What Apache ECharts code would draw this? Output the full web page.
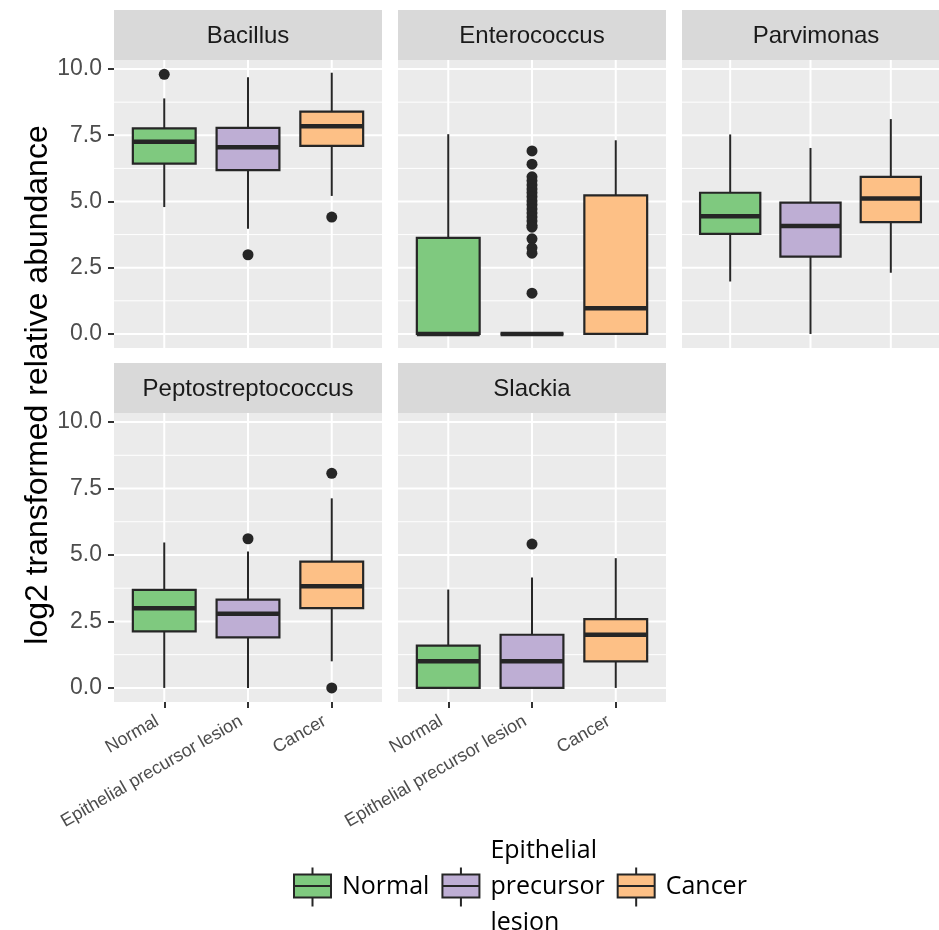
<!DOCTYPE html>
<html>
<head>
<meta charset="utf-8">
<script src="https://cdn.jsdelivr.net/npm/echarts@6/dist/echarts.min.js"></script>
<style>
html,body{margin:0;padding:0;background:#fff;}
#chart{width:939px;height:930px;}
</style>
</head>
<body>
<div id="chart"></div>
<script>
// ---------- data ----------
const categories = ['Normal', 'Epithelial precursor lesion', 'Cancer'];
const taxa = ['Bacillus', 'Enterococcus', 'Parvimonas', 'Peptostreptococcus', 'Slackia'];
const yTickValues = [0, 2.5, 5, 7.5, 10];
const yMinorValues = [1.25, 3.75, 6.25, 8.75];
const yTitle = 'log2 transformed relative abundance';

// box stats per category: [lower whisker, Q1, median, Q3, upper whisker]
const bacillusBox = [[4.79, 6.43, 7.25, 7.76, 8.89], [3.97, 6.18, 7.05, 7.78, 9.69], [5.21, 7.10, 7.84, 8.39, 9.86]];
const enterococcusBox = [[0, 0, 0, 3.63, 7.54], [0, 0, 0, 0, 0], [0, 0, 0.97, 5.23, 7.31]];
const parvimonasBox = [[1.98, 3.78, 4.44, 5.33, 7.53], [0, 2.92, 4.07, 4.96, 7.02], [2.31, 4.22, 5.11, 5.93, 8.11]];
const peptostreptococcusBox = [[0, 2.13, 3.00, 3.69, 5.47], [0, 1.90, 2.79, 3.32, 5.13], [1.00, 3.00, 3.82, 4.75, 7.13]];
const slackiaBox = [[0, 0, 1.00, 1.59, 3.70], [0, 0, 1.00, 2.00, 4.15], [0, 1.00, 2.00, 2.59, 4.88]];

// outliers: [category index, value]
const bacillusOut = [[0, 9.80], [1, 2.99], [2, 4.41]];
const enterococcusOut = [[1, 6.91], [1, 6.41], [1, 5.93], [1, 5.78], [1, 5.62], [1, 5.47], [1, 5.33], [1, 5.18],
  [1, 5.02], [1, 4.88], [1, 4.72], [1, 4.57], [1, 4.41], [1, 4.26], [1, 4.10], [1, 4.03], [1, 3.59], [1, 3.25],
  [1, 3.05], [1, 1.54]];
const parvimonasOut = [];
const peptostreptococcusOut = [[1, 5.61], [2, 8.07], [2, 0]];
const slackiaOut = [[1, 5.41]];

const boxes = [bacillusBox, enterococcusBox, parvimonasBox, peptostreptococcusBox, slackiaBox];
const outliers = [bacillusOut, enterococcusOut, parvimonasOut, peptostreptococcusOut, slackiaOut];

// ---------- styling / layout ----------
const groupColors = ['#7FC97F', '#BEAED4', '#FDC086'];
const ink = '#262626';
const FONT = "'Liberation Sans', Arial, sans-serif";
const panelLeft = [114, 398, 682, 114, 398];
const panelTop = [60, 60, 60, 413, 413];
const panelW = 268;
const panelH = [288, 288, 288, 289, 289];
const stripH = 50;
const yMin = -0.53, yMax = 10.34;
const xMin = -0.6, xMax = 2.6;
const showYAxis = [true, false, false, true, false];
const showXAxis = [false, false, false, true, true];

const chart = echarts.init(document.getElementById('chart'), null, {renderer: 'canvas'});

const grids = [], xAxes = [], yAxes = [], series = [], graphics = [];

function renderGridLines(params, api) {
  const kind = api.value(0), v = api.value(1);
  const cs = params.coordSys;
  if (kind === 2) {
    const x = api.coord([v, 0])[0];
    return {type: 'line', shape: {x1: x, y1: cs.y, x2: x, y2: cs.y + cs.height},
      style: {stroke: '#FFFFFF', lineWidth: 2}};
  }
  const y = api.coord([0, v])[1];
  return {type: 'line', shape: {x1: cs.x, y1: y, x2: cs.x + cs.width, y2: y},
    style: {stroke: '#FFFFFF', lineWidth: kind === 0 ? 2 : 1}};
}

function renderBox(params, api) {
  const x = api.value(0);
  const lo = api.value(1), q1 = api.value(2), med = api.value(3), q3 = api.value(4), hi = api.value(5);
  const halfW = api.size([0.75, 0])[0] / 2;
  const pLo = api.coord([x, lo]), pQ1 = api.coord([x, q1]), pMed = api.coord([x, med]);
  const pQ3 = api.coord([x, q3]), pHi = api.coord([x, hi]);
  const color = api.visual('color');
  const ls = {stroke: ink, lineWidth: 2};
  return {
    type: 'group',
    children: [
      {type: 'line', shape: {x1: pLo[0], y1: pLo[1], x2: pQ1[0], y2: pQ1[1]}, style: ls},
      {type: 'line', shape: {x1: pQ3[0], y1: pQ3[1], x2: pHi[0], y2: pHi[1]}, style: ls},
      {type: 'rect', shape: {x: pQ1[0] - halfW, y: pQ3[1], width: 2 * halfW, height: pQ1[1] - pQ3[1]},
        style: {fill: color, stroke: ink, lineWidth: 2.2}},
      {type: 'line', shape: {x1: pMed[0] - halfW, y1: pMed[1], x2: pMed[0] + halfW, y2: pMed[1]},
        style: {stroke: ink, lineWidth: 4.5}}
    ]
  };
}

taxa.forEach(function (taxon, p) {
  grids.push({
    left: panelLeft[p], top: panelTop[p], width: panelW, height: panelH[p],
    show: true, backgroundColor: '#EBEBEB', borderWidth: 0, containLabel: false
  });
  xAxes.push({
    type: 'value', gridIndex: p, min: xMin, max: xMax,
    axisLine: {show: false, onZero: false},
    splitLine: {show: false},
    axisTick: {show: showXAxis[p], customValues: [0, 1, 2], length: 6, lineStyle: {color: '#333333', width: 2}},
    axisLabel: {
      show: showXAxis[p], customValues: [0, 1, 2], rotate: 30, margin: 14, padding: [0, 8, 0, 0],
      fontFamily: FONT, fontSize: 18, color: '#4D4D4D',
      formatter: function (v) { return categories[Math.round(v)] || ''; }
    }
  });
  yAxes.push({
    type: 'value', gridIndex: p, min: yMin, max: yMax,
    axisLine: {show: false, onZero: false},
    splitLine: {show: false},
    axisTick: {show: showYAxis[p], customValues: yTickValues, length: 6, lineStyle: {color: '#333333', width: 2}},
    axisLabel: {
      show: showYAxis[p], customValues: yTickValues, margin: 12,
      fontFamily: FONT, fontSize: 23, color: '#4D4D4D',
      formatter: function (v) { return Number(v).toFixed(1); }
    }
  });

  // grid lines (white, ggplot style)
  const gl = [];
  yTickValues.forEach(function (v) { gl.push([0, v]); });
  yMinorValues.forEach(function (v) { gl.push([1, v]); });
  categories.forEach(function (c, i) { gl.push([2, i]); });
  series.push({
    type: 'custom', name: 'gridlines', xAxisIndex: p, yAxisIndex: p, z: 1, silent: true,
    renderItem: renderGridLines, data: gl, clip: true
  });

  categories.forEach(function (cat, g) {
    series.push({
      type: 'custom', name: cat, xAxisIndex: p, yAxisIndex: p, z: 2, silent: true,
      itemStyle: {color: groupColors[g]},
      renderItem: renderBox,
      encode: {x: 0, y: [1, 2, 3, 4, 5]},
      data: [[g].concat(boxes[p][g])]
    });
  });

  series.push({
    type: 'scatter', name: 'outliers', xAxisIndex: p, yAxisIndex: p, z: 3, silent: true,
    symbol: 'circle', symbolSize: 11, itemStyle: {color: ink, opacity: 1},
    data: outliers[p]
  });

  // facet strip
  const stripTop = panelTop[p] - stripH;
  graphics.push({
    type: 'rect', left: panelLeft[p], top: stripTop, z: 10,
    shape: {width: panelW, height: stripH}, style: {fill: '#D9D9D9'}
  });
  graphics.push({
    type: 'text', x: panelLeft[p] + panelW / 2, y: stripTop + stripH / 2 + 1, z: 11,
    style: {text: taxon, fontFamily: FONT, fontSize: 24, fill: '#1A1A1A', align: 'center', verticalAlign: 'middle'}
  });
});

graphics.push({
  type: 'text', x: 38, y: 385, rotation: Math.PI / 2, z: 11,
  style: {text: yTitle, fontFamily: FONT, fontSize: 32, fill: '#000000', align: 'center', verticalAlign: 'middle'}
});

const legendIcon = 'path://M0,7H37V30H0Z M0,18.5H37 M18.5,0V7 M18.5,30V39';

chart.setOption({
  animation: false,
  backgroundColor: '#FFFFFF',
  grid: grids,
  xAxis: xAxes,
  yAxis: yAxes,
  series: series,
  graphic: graphics,
  legend: {
    data: categories.map(function (c, i) {
      return {name: c, icon: legendIcon, itemStyle: {color: groupColors[i], borderColor: ink, borderWidth: 2}};
    }),
    left: 288, top: 828, orient: 'horizontal',
    itemWidth: 37, itemHeight: 39, itemGap: 12,
    selectedMode: false,
    formatter: function (n) { return n.split(' ').join('\n'); },
    textStyle: {fontFamily: "'Open Sans', sans-serif", fontSize: 25, color: '#000000', lineHeight: 36, padding: [0, 0, 0, 6]}
  }
});
</script>
</body>
</html>
